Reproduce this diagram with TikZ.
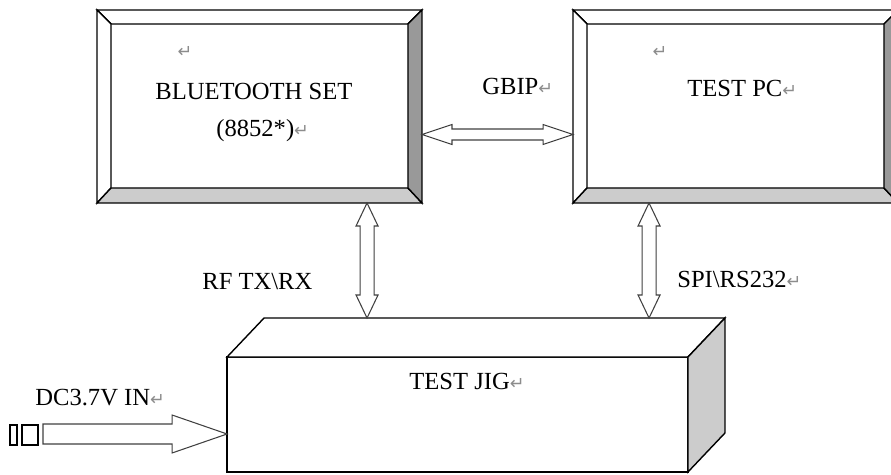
\documentclass[tikz,border=0pt]{standalone}
\usepackage{fontspec}
\setmainfont{Liberation Serif}
\newfontfamily\markfont{DejaVu Sans}
\usepackage{tikz}
\usetikzlibrary{calc}
\newcommand{\pmark}{{\markfont\fontsize{10pt}{10pt}\selectfont\textcolor{black!45}{↵}}}

\begin{document}
\begin{tikzpicture}[x=0.02cm,y=-0.02cm,
  panel/.style={minimum width=6.5cm,minimum height=3.86cm,inner sep=0,outer sep=0},
  face/.style={draw=black,line width=0.8pt,line join=miter},
  link/.style={draw=black!75,line width=0.6pt,fill=white,line join=miter},
  lbl/.style={inner sep=0,anchor=base west,font=\fontsize{14pt}{16pt}\selectfont},
  plug/.style={draw,line width=0.6pt,minimum height=0.4cm,inner sep=0,outer sep=0}]
\clip (0,0) rectangle (891,475);

% the two panels
\node[panel] (bt) at (259.5,106.5) {};
\node[panel] (tpc) at (735.5,106.5) {};
\foreach \b in {bt,tpc}{
  \draw[face,fill=white] (\b.north west) -- (\b.north east) -- ([shift={(-14,14)}]\b.north east) -- ([shift={(14,14)}]\b.north west) -- cycle;
  \draw[face,fill=white] (\b.north west) -- ([shift={(14,14)}]\b.north west) -- ([shift={(14,-15)}]\b.south west) -- (\b.south west) -- cycle;
  \draw[face,fill=gray!40] (\b.south west) -- (\b.south east) -- ([shift={(-14,-15)}]\b.south east) -- ([shift={(14,-15)}]\b.south west) -- cycle;
  \draw[face,fill=gray!80] (\b.north east) -- (\b.south east) -- ([shift={(-14,-15)}]\b.south east) -- ([shift={(-14,14)}]\b.north east) -- cycle;
}

% test jig
\node[draw,line width=0.8pt,fill=white,minimum width=9.22cm,minimum height=2.3cm,inner sep=0,outer sep=0] (jig) at (457.5,414.5) {};
\coordinate (jt) at ($(jig.north west)+(37,-39)$);
\draw[face,fill=white] (jig.north west) -- (jt) -- ($(jig.north east)+(37,-39)$) -- (jig.north east) -- cycle;
\draw[face,fill=gray!40] (jig.north east) -- ++(37,-39) -- ($(jig.south east)+(37,-39)$) -- (jig.south east) -- cycle;

% links
\coordinate (r1) at ($(bt.south west)+(270,0)$);
\coordinate (r2) at (r1 |- jt);
\coordinate (s1) at ($(tpc.south west)+(76,0)$);
\coordinate (s2) at (s1 |- jt);
\coordinate (g1) at ($(bt.east)+(0,28)$);
\coordinate (g2) at (g1 -| tpc.west);
\draw[link] (g1) -- ++(30,-10) -- ++(0,4.5) -- ($(g2)+(-30,-5.5)$) -- ++(0,-4.5) -- (g2) -- ++(-30,10) -- ++(0,-4.5) -- ($(g1)+(30,5.5)$) -- ++(0,4.5) -- cycle;
\draw[link] (r1) -- ++(11,23) -- ++(-4,0) -- ($(r2)+(7,-23)$) -- ++(4,0) -- (r2) -- ++(-11,-23) -- ++(4,0) -- ($(r1)+(-7,23)$) -- ++(-4,0) -- cycle;
\draw[link] (s1) -- ++(11,23) -- ++(-4,0) -- ($(s2)+(7,-23)$) -- ++(4,0) -- (s2) -- ++(-11,-23) -- ++(4,0) -- ($(s1)+(-7,23)$) -- ++(-4,0) -- cycle;

% power input
\node[plug,minimum width=0.14cm] (plugA) at (13.5,435) {};
\node[plug,minimum width=0.32cm] (plugB) at (30,435) {};
\coordinate (dc1) at (43,434);
\coordinate (dc2) at ($(jig.west)+(0,19.5)$);
\draw[link] (dc1) -- ++(0,-10) -- ($(dc2)+(-55,-10)$) -- ++(0,-9) -- (dc2) -- ++(-55,19) -- ++(0,-9) -- ($(dc1)+(0,10)$) -- cycle;

% texts
\node at (185,52) {\pmark};
\node at (660,52) {\pmark};
\node[lbl] at (155,100) {BLUETOOTH SET};
\node[lbl] at (216,137) {(8852*)\pmark};
\node[lbl] at (687,97) {TEST PC\pmark};
\node[lbl] at (482,95) {GBIP\pmark};
\node[lbl] at (202,290) {RF TX\textbackslash RX};
\node[lbl] at (677,288) {SPI\textbackslash RS232\pmark};
\node[lbl] at (409,390) {TEST JIG\pmark};
\node[lbl] at (35,405) {DC3.7V IN\pmark};

\end{tikzpicture}
\end{document}
